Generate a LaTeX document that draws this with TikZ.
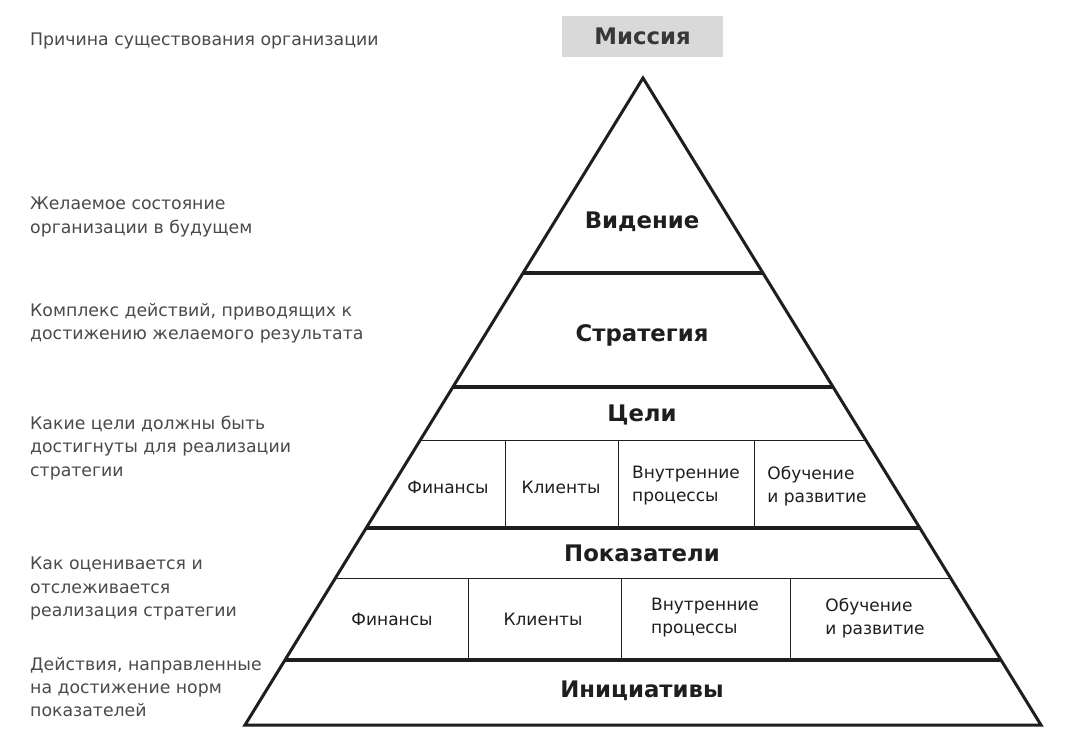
\documentclass[tikz,border=0pt]{standalone}
\usepackage{fontspec}
\setmainfont{DejaVu Sans}
\usetikzlibrary{calc}
\definecolor{ink}{HTML}{1E1E1E}
\definecolor{note}{HTML}{4A4A4A}
\definecolor{boxgray}{HTML}{D9D9D9}
\tikzset{
  edge/.style={draw=ink, line width=3pt, line join=miter},
  thickrule/.style={draw=ink, line width=3.4pt},
  thinrule/.style={draw=ink, line width=1pt},
  level/.style={font=\fontsize{22.8}{26}\selectfont\bfseries, text=ink, inner sep=0pt},
  cell/.style={font=\fontsize{17}{23}\selectfont, text=ink, align=left, inner sep=0pt},
  notetext/.style={font=\fontsize{17.3}{23.3}\selectfont, text=note, align=left, anchor=north west, inner sep=0pt},
}
\begin{document}
\begin{tikzpicture}[x=1pt,y=-1pt]
\useasboundingbox (0,0) rectangle (1066,737);
\fill[white] (0,0) rectangle (1066,737);
% coordinates of the pyramid
\coordinate (apex) at (643,78);
\coordinate (bl) at (245,725);
\coordinate (br) at (1041,725);
% mission box
\node[fill=boxgray, minimum width=161pt, minimum height=41pt, inner sep=0pt,
      font=\fontsize{22.8}{26}\selectfont\bfseries, text=black!78] (mission) at (642.5,36) {Миссия};
% horizontal rules clipped to the triangle
\begin{scope}
  \clip (apex) -- (bl) -- (br) -- cycle;
  \draw[thickrule] (0,273) -- (1066,273);
  \draw[thickrule] (0,387) -- (1066,387);
  \draw[thinrule] (0,440) -- (1066,440);
  \draw[thickrule] (0,528) -- (1066,528);
  \draw[thinrule] (0,578) -- (1066,578);
  \draw[thickrule] (0,660) -- (1066,660);
  % verticals in the goals row
  \draw[thinrule] (505.5,440) -- (505.5,528);
  \draw[thinrule] (618.5,440) -- (618.5,528);
  \draw[thinrule] (754.5,440) -- (754.5,528);
  % verticals in the indicators row
  \draw[thinrule] (468,578) -- (468,660);
  \draw[thinrule] (621,578) -- (621,660);
  \draw[thinrule] (790,578) -- (790,660);
\end{scope}
\draw[edge] (apex) -- (bl) -- (br) -- cycle;
% level labels
\node[level] (vis) at (642,222) {Видение};
\node[level] (str) at (642,335) {Стратегия};
\node[level] (goal) at (642,415) {Цели};
\node[level] (ind) at (642,553) {Показатели};
\node[level] (ini) at (642,691) {Инициативы};
% goal cells
\node[cell] (g1) at (448,487) {Финансы};
\node[cell] (g2) at (561,487) {Клиенты};
\node[cell] (g3) at (686,486) {Внутренние\\процессы};
\node[cell] (g4) at (817,486) {Обучение\\и развитие};
% indicator cells
\node[cell] (i1) at (392,619) {Финансы};
\node[cell] (i2) at (543,619) {Клиенты};
\node[cell] (i3) at (705,618) {Внутренние\\процессы};
\node[cell] (i4) at (875,618) {Обучение\\и развитие};
% notes on the left
\node[notetext] (n1) at (30,33) {Причина существования организации};
\node[notetext] (n2) at (30,197) {Желаемое состояние\\организации в будущем};
\node[notetext] (n3) at (30,303) {Комплекс действий, приводящих к\\достижению желаемого результата};
\node[notetext] (n4) at (30,416) {Какие цели должны быть\\достигнуты для реализации\\стратегии};
\node[notetext] (n5) at (30,557) {Как оценивается и\\отслеживается\\реализация стратегии};
\node[notetext] (n6) at (30,657) {Действия, направленные\\на достижение норм\\показателей};
\end{tikzpicture}
\end{document}
